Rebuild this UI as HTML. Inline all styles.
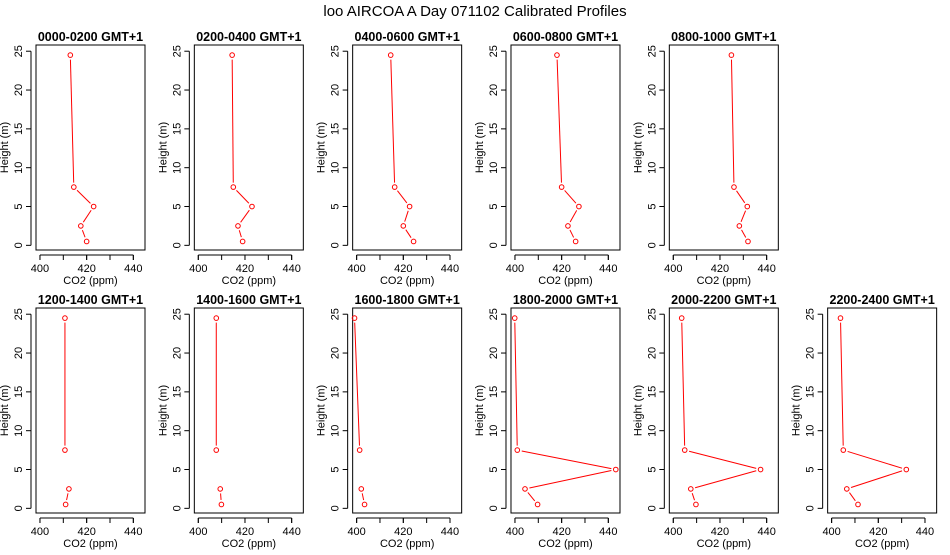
<!DOCTYPE html>
<html><head><meta charset="utf-8"><style>
html,body{margin:0;padding:0;background:#fff;}
svg text{font-family:"Liberation Sans",Arial,sans-serif;}
</style></head><body>
<svg id="chart" width="950" height="550" xmlns="http://www.w3.org/2000/svg">
<text x="475" y="16" text-anchor="middle" font-size="15">loo AIRCOA A  Day 071102  Calibrated Profiles</text>
</svg>
<script>
const panelTitles=["0000-0200 GMT+1","0200-0400 GMT+1","0400-0600 GMT+1","0600-0800 GMT+1","0800-1000 GMT+1",null,
"1200-1400 GMT+1","1400-1600 GMT+1","1600-1800 GMT+1","1800-2000 GMT+1","2000-2200 GMT+1","2200-2400 GMT+1"];
const heights=[0.5,2.5,5,7.5,24.5];
const co2Values=[
[420,417.5,423,414.5,413],
[419,417,423,415,414.5],
[424.4,420,422.7,416.3,414.6],
[426,422.7,427.4,420,418],
[432,428.3,431.7,426,424.9],
null,
[411,412.4,null,410.7,410.7],
[409.9,409.4,null,407.7,407.7],
[403.4,402,null,401.3,399.1],
[409.7,404.3,443.2,401,399.9],
[409.7,407.5,437.4,404.9,403.6],
[411.3,406.5,432,405,403.8]];
const xTicks=[400,420,440];
const yTicks=[0,5,10,15,20,25];
const xMin=398.3,xMax=445,yMin=-0.6,yMax=25.8;
const NS="http://www.w3.org/2000/svg";
const svg=document.getElementById('chart');
function mk(t,a,p){const e=document.createElementNS(NS,t);for(const k in a)e.setAttribute(k,a[k]);(p||svg).appendChild(e);return e;}
panelTitles.forEach((title,i)=>{
  if(title===null)return;
  const col=i%6,row=Math.floor(i/6);
  const L=36+col*158.33,W=109,T=45+row*263,H=205;
  const sx=v=>L+(v-xMin)/(xMax-xMin)*W;
  const sy=v=>T+H-(v-yMin)/(yMax-yMin)*H;
  const g=mk('g',{});
  
  
  const box=mk('rect',{x:L,y:T,width:W,height:H,fill:'none',stroke:'#000','stroke-width':1},g);
  
  
  const tt=mk('text',{x:L+W/2,y:T-4,'text-anchor':'middle','font-size':12.5,'font-weight':'bold'},g);
  tt.textContent=title;
  
  
  mk('line',{x1:sx(xTicks[0]),x2:sx(xTicks[xTicks.length-1]),y1:T+H+5,y2:T+H+5,stroke:'#000'},g);
  xTicks.forEach(v=>{
    mk('line',{x1:sx(v),x2:sx(v),y1:T+H+5,y2:T+H+10,stroke:'#000'},g);
  });
  [400,410,420,430,440].forEach(v=>mk('line',{x1:sx(v),x2:sx(v),y1:T+H+5,y2:T+H+10,stroke:'#000'},g));
  xTicks.forEach(v=>{
    const t=mk('text',{x:sx(v),y:T+H+22,'text-anchor':'middle','font-size':11},g);t.textContent=v;
    
    
  });
  const xl=mk('text',{x:L+W/2,y:T+H+34,'text-anchor':'middle','font-size':11},g);xl.textContent='CO2 (ppm)';
  
  
  mk('line',{x1:L-5,x2:L-5,y1:sy(0),y2:sy(25),stroke:'#000'},g);
  yTicks.forEach(v=>{
    mk('line',{x1:L-10,x2:L-5,y1:sy(v),y2:sy(v),stroke:'#000'},g);
    const t=mk('text',{x:L-14,y:sy(v),'text-anchor':'middle','font-size':11,transform:`rotate(-90 ${L-14} ${sy(v)})`},g);t.textContent=v;
    
    
  });
  const yx=L-28,yy=T+H/2;
  const yl=mk('text',{x:yx,y:yy,'text-anchor':'middle','font-size':11,transform:`rotate(-90 ${yx} ${yy})`},g);yl.textContent='Height (m)';
  
  
  const vals=co2Values[i];
  for(let k=0;k<heights.length-1;k++){
    if(vals[k]===null||vals[k+1]===null)continue;
    const x1=sx(vals[k]),y1=sy(heights[k]),x2=sx(vals[k+1]),y2=sy(heights[k+1]);
    const d=Math.hypot(x2-x1,y2-y1),gap=4.5;
    if(d<=2*gap)continue;
    const ux=(x2-x1)/d,uy=(y2-y1)/d;
    const ln=mk('line',{x1:x1+ux*gap,y1:y1+uy*gap,x2:x2-ux*gap,y2:y2-uy*gap,stroke:'#f00','stroke-width':1},g);
    
    
  }
  vals.forEach((v,k)=>{
    if(v===null)return;
    const c=mk('circle',{cx:sx(v),cy:sy(heights[k]),r:2.3,fill:'none',stroke:'#f00','stroke-width':1},g);
    
    
  });
});
</script>
</body></html>
